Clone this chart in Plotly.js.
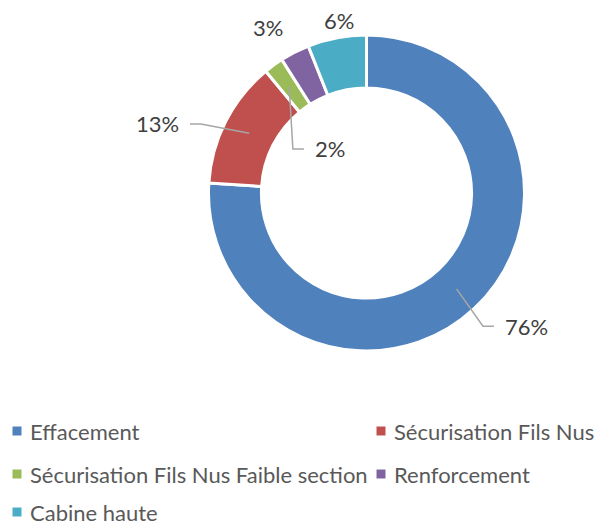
<!DOCTYPE html>
<html>
<head>
<meta charset="utf-8">
<script src="https://cdn.plot.ly/plotly-3.0.1.min.js"></script>
<style>html,body{margin:0;padding:0;background:#fff;}#chart{width:595px;height:528px;}</style>
</head>
<body>
<div id="chart"></div>
<script>
// ---- data ----
const categories = ['Effacement', 'Sécurisation Fils Nus', 'Sécurisation Fils Nus Faible section', 'Renforcement', 'Cabine haute'];
const values = [76, 13, 2, 3, 6];
const colors = ['#4F81BD', '#C0504D', '#9BBB59', '#8064A2', '#4BACC6'];

// ---- layout constants ----
const W = 595, H = 528;
const CX = 366.5, CY = 193, R = 158;
const HOLE = 0.665;
const FONT = 'Lato, "Noto Sans", sans-serif';
const FS = 22;
// label placement: radius (x R), angle shift from slice middle (deg), anchor, leader line
const labelPlace = [
  {r: 1.207, da: -2.5, anchor: 'left', leader: true},
  {r: 1.253, da: -6.6, anchor: 'right', leader: true},
  {r: 0.439, da: -14.6, anchor: 'left', leader: true},
  {r: 1.22, da: -3.8, anchor: 'center', leader: false},
  {r: 1.107, da: 1.6, anchor: 'center', leader: false}
];

const px = x => x / W;
const py = y => 1 - y / H;
const total = values.reduce((a, b) => a + b, 0);
const polar = (deg, rad) => [CX + rad * Math.sin(deg * Math.PI / 180), CY - rad * Math.cos(deg * Math.PI / 180)];

const annotations = [];
const shapes = [];
let cum = 0;
values.forEach((v, i) => {
  const mid = (cum + v / 2) / total * 360;
  cum += v;
  const lp = labelPlace[i];
  const [lx, ly] = polar(mid + lp.da, lp.r * R);
  annotations.push({
    x: px(lx), y: py(ly), xref: 'paper', yref: 'paper',
    text: Math.round(v / total * 100) + '%', showarrow: false,
    xanchor: lp.anchor, yanchor: 'middle',
    font: {family: FONT, size: FS, color: '#404040'}
  });
  if (lp.leader) {
    const [sx, sy] = polar(mid, R * (1 + HOLE) / 2);
    const dir = lp.anchor === 'left' ? -1 : 1;
    const ex = lx + dir * 9;
    const elx = ex + dir * 11;
    shapes.push({
      type: 'path', xref: 'paper', yref: 'paper',
      path: `M${px(sx)},${py(sy)} L${px(elx)},${py(ly)} L${px(ex)},${py(ly)}`,
      line: {color: '#A6A6A6', width: 1.5}
    });
  }
});

// manual legend
const legCols = [17, 381], legRows = [431, 474, 512], sq = 4.5;
categories.forEach((c, i) => {
  const col = i % 2, row = Math.floor(i / 2);
  const x = legCols[col], y = legRows[row];
  shapes.push({
    type: 'rect', xref: 'paper', yref: 'paper',
    x0: px(x - sq), x1: px(x + sq), y0: py(y + sq), y1: py(y - sq),
    fillcolor: colors[i], line: {width: 0}
  });
  annotations.push({
    x: px(x + 11), y: py(y), xref: 'paper', yref: 'paper',
    text: c, showarrow: false, xanchor: 'left', yanchor: 'middle',
    font: {family: FONT, size: FS, color: '#595959'}
  });
});

const trace = {
  type: 'pie',
  labels: categories,
  values: values,
  hole: HOLE,
  sort: false,
  direction: 'clockwise',
  rotation: 0,
  textinfo: 'none',
  hoverinfo: 'label+percent',
  marker: {colors: colors, line: {color: '#FFFFFF', width: 3}},
  domain: {x: [px(CX - R), px(CX + R)], y: [py(CY + R), py(CY - R)]},
  showlegend: false
};

Plotly.newPlot('chart', [trace], {
  width: W, height: H,
  margin: {l: 0, r: 0, t: 0, b: 0},
  paper_bgcolor: '#FFFFFF',
  showlegend: false,
  annotations: annotations,
  shapes: shapes
}, {staticPlot: true});
</script>
</body>
</html>
